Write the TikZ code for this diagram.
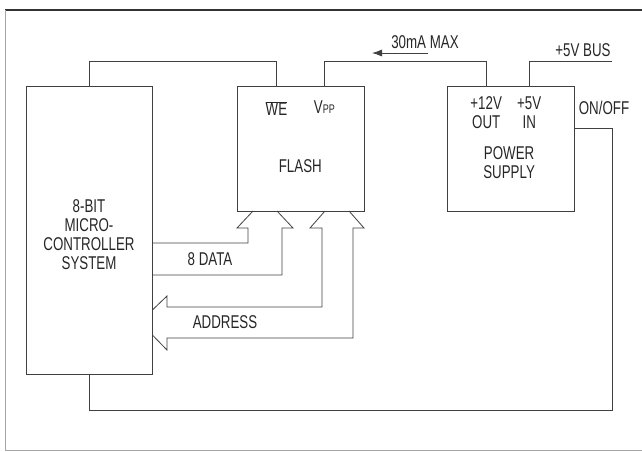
\documentclass[tikz,border=0pt]{standalone}
\usepackage{fontspec}
\setmainfont{Liberation Sans}[FakeStretch=0.72]
\usetikzlibrary{
  calc,
  positioning,
  arrows.meta
}

\begin{document}
\begin{tikzpicture}[x=1pt,y=-1pt,
	blk/.style={rectangle,draw=black!75,line width=0.8pt,inner sep=0pt,align=center},
	lbl/.style={inner sep=0pt,align=center,text=black!85},
	wire/.style={draw=black!75,line width=0.8pt},
	font=\fontsize{18.5}{19}\selectfont]
		\useasboundingbox (0,0) rectangle (642,451);
		\draw[line width=2pt,black!80] (5,10) -- (642,10);
		\draw[line width=0.6pt,black!35] (5.5,10) -- (5.5,450) -- (642,450);

		\node[blk,minimum width=126pt,minimum height=288pt] (micro) at (89,230) {};
		\node[blk,minimum width=127pt,minimum height=125pt,right=85pt of micro.north east,anchor=north west] (flash) {};
		\node[blk,minimum width=127pt,minimum height=125pt,right=82pt of flash.north east,anchor=north west] (ps) {};

		\node[lbl] (microtxt) at ($(micro.center)+(0,5)$) {8-BIT\\MICRO-\\CONTROLLER\\SYSTEM};
		\node[lbl] (we) at ($(flash.north west)+(39,23)$) {$\overline{\hbox{WE}}$};
		\node[lbl] (vpp) at ($(flash.north west)+(87,22)$) {V{\fontsize{12.5}{12.5}\selectfont PP}};
		\node[lbl] (flashtxt) at ($(flash.north)+(-1,81)$) {FLASH};
		\node[lbl] (twelve) at ($(ps.north west)+(39,27)$) {+12V\\OUT};
		\node[lbl] (five) at ($(ps.north west)+(82,27)$) {+5V\\IN};
		\node[lbl] (pstxt) at ($(ps.north)+(-2,77)$) {POWER\\SUPPLY};
		\node[lbl] (onoff) at (604,108) {ON/OFF};
		\node[lbl] (busl) at (583,50) {+5V BUS};
		\node[lbl] (ma) at (425,42) {30mA MAX};
		\node[lbl] (data) at (210,259) {8 DATA};
		\node[lbl] (addr) at (225,322) {ADDRESS};

		\coordinate (rail) at (0,61);
		\coordinate (bus) at (612,61);
		\coordinate (sw) at ($(ps.east)+(0,-20)$);
		\coordinate (ret) at (612,410);
		\coordinate (maR) at ($(ma.center)+(3,11)$);
		\coordinate (maL) at ($(ma.center)+(-53,11)$);

		\draw[wire] (micro.north) |- (we |- rail) -- (we |- flash.north);
		\draw[wire] (vpp |- flash.north) |- (twelve |- rail) -- (twelve |- ps.north);
		\draw[wire] (five |- ps.north) |- (bus);
		\draw[wire] (sw) -| (ret) -| (micro.south);
		\draw[wire,-{Latex[length=10pt,width=7pt]}] (maR) -- (maL);

		\draw[wire] (micro.east |- 0,243) -- (248,243) -- (248,228) -- (237,228) -- (253,211) (277,211) -- (293,228) -- (282,228) -- (282,275) -- (micro.east |- 0,275);
		\draw[wire] (micro.east |- 0,310) -- (167,296) -- (167,307) -- (322,307) -- (322,228) -- (310,228) -- (325,211);
		\draw[wire] (349,211) -- (364,228) -- (353,228) -- (353,338) -- (167,338) -- (167,350) -- (micro.east |- 0,335);
	\end{tikzpicture}
\end{document}
